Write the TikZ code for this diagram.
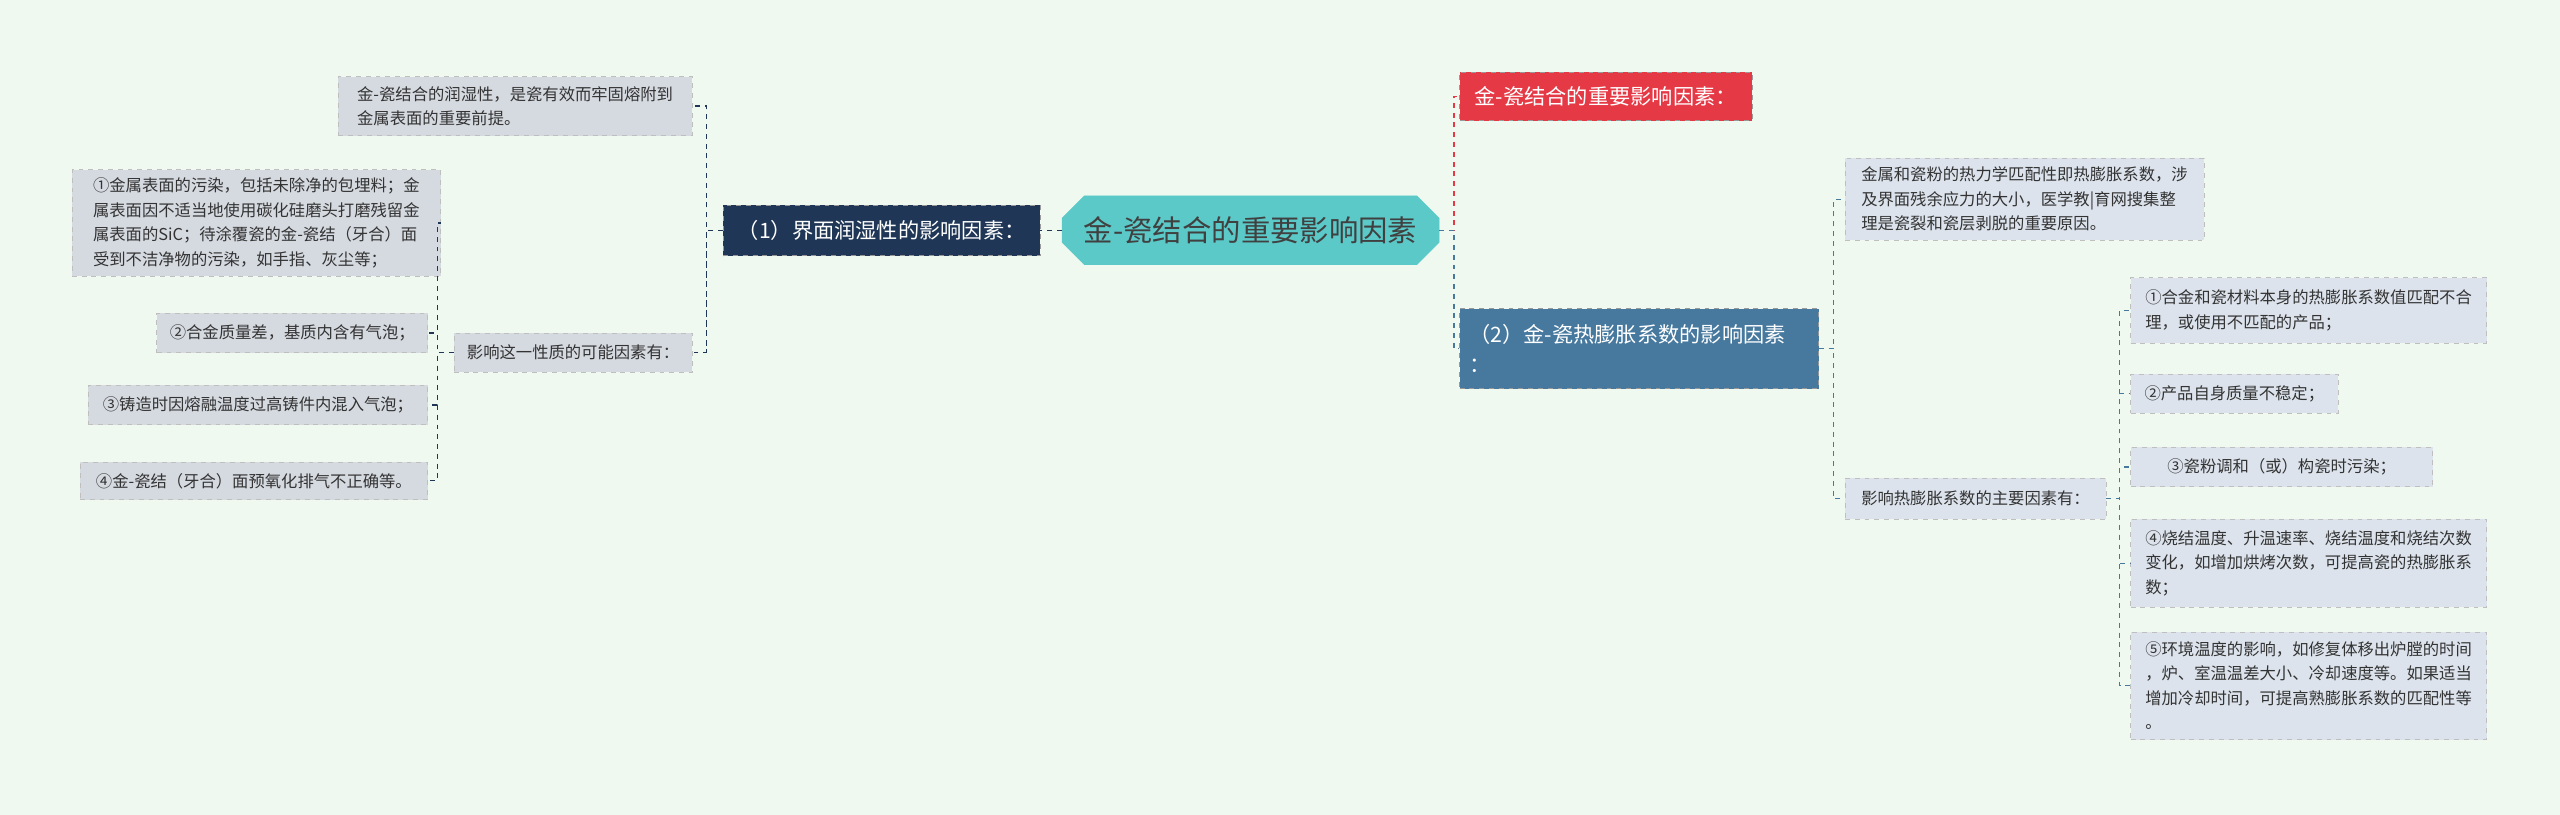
\documentclass[tikz,border=0pt]{standalone}
\usepackage{fontspec}
\setmainfont{Noto Sans CJK SC}
\usetikzlibrary{shapes.misc}
\definecolor{bgc}{HTML}{F0F9EF}
\definecolor{navy}{HTML}{1F3656}
\definecolor{teal}{HTML}{5CC9C9}
\definecolor{redc}{HTML}{E63946}
\definecolor{steel}{HTML}{47799E}
\definecolor{greyL}{HTML}{D5D9E0}
\definecolor{greyR}{HTML}{DCE3EC}
\tikzset{
  leaf/.style={rectangle,draw=gray!50,dashed,fill=greyL,inner sep=5pt,align=left,
    font=\fontsize{10}{15}\selectfont,text=black!80},
  leafR/.style={leaf,fill=greyR},
  mainbox/.style={rectangle,draw=white!60!black,dashed,inner sep=5pt,align=left,
    text=white,font=\fontsize{13}{18}\selectfont},
  link/.style={dashed,line width=0.8pt}
}
\begin{document}
\begin{tikzpicture}[x=1pt,y=-1pt]
\fill[bgc] (0,0) rectangle (1568,499);
\useasboundingbox (0,0) rectangle (1568,499);
% Root and main branches
\node[chamfered rectangle,chamfered rectangle xsep=10pt,fill=teal,draw=teal,
  minimum width=219,minimum height=42,font=\fontsize{18}{22}\selectfont,text=black!75]
  (root) at (766,141) {金-瓷结合的重要影响因素};
\node[mainbox,fill=navy,minimum width=194,minimum height=31,align=center] (wet) at (540,141)
  {（1）界面润湿性的影响因素：};
\node[mainbox,fill=redc,minimum width=179,minimum height=30] (key) at (983.5,59)
  {金-瓷结合的重要影响因素：};
\node[mainbox,fill=steel,minimum width=220,minimum height=49,text width=208] (exp) at (1004,213.5)
  {（2）金-瓷热膨胀系数的影响因素\\：};
% Left side
\node[leaf,minimum width=217,minimum height=36] (wnote) at (315.5,65)
  {金-瓷结合的润湿性，是瓷有效而牢固熔附到\\金属表面的重要前提。};
\node[leaf,minimum width=146,minimum height=24] (wcause) at (351,216)
  {影响这一性质的可能因素有：};
\node[leaf,minimum width=226,minimum height=65] (w1) at (157,136.5)
  {①金属表面的污染，包括未除净的包埋料；金\\属表面因不适当地使用碳化硅磨头打磨残留金\\属表面的SiC；待涂覆瓷的金-瓷结（牙合）面\\受到不洁净物的污染，如手指、灰尘等；};
\node[leaf,minimum width=166,minimum height=24] (w2) at (179,204)
  {②合金质量差，基质内含有气泡；};
\node[leaf,minimum width=208,minimum height=24] (w3) at (158,248)
  {③铸造时因熔融温度过高铸件内混入气泡；};
\node[leaf,minimum width=213,minimum height=23] (w4) at (155.5,294.5)
  {④金-瓷结（牙合）面预氧化排气不正确等。};
% Right side
\node[leafR,minimum width=220,minimum height=50] (enote) at (1240,122)
  {金属和瓷粉的热力学匹配性即热膨胀系数，涉\\及界面残余应力的大小，医学教|育网搜集整\\理是瓷裂和瓷层剥脱的重要原因。};
\node[leafR,minimum width=160,minimum height=25] (ecause) at (1210,305.5)
  {影响热膨胀系数的主要因素有：};
\node[leafR,minimum width=218,minimum height=40] (e1) at (1414,190)
  {①合金和瓷材料本身的热膨胀系数值匹配不合\\理，或使用不匹配的产品；};
\node[leafR,minimum width=127,minimum height=24] (e2) at (1368.5,241)
  {②产品自身质量不稳定；};
\node[leafR,minimum width=185,minimum height=24] (e3) at (1397.5,286)
  {③瓷粉调和（或）构瓷时污染；};
\node[leafR,minimum width=218,minimum height=54] (e4) at (1414,345)
  {④烧结温度、升温速率、烧结温度和烧结次数\\变化，如增加烘烤次数，可提高瓷的热膨胀系\\数；};
\node[leafR,minimum width=218,minimum height=66] (e5) at (1414,420)
  {⑤环境温度的影响，如修复体移出炉膛的时间\\，炉、室温温差大小、冷却速度等。如果适当\\增加冷却时间，可提高熟膨胀系数的匹配性等\\。};
% Connectors
\draw[link,navy] (root.west) -- (wet.east);
\foreach \n in {wnote,wcause}
  \draw[link,navy] (wet.west) -| ([xshift=-10]wet.west |- wcause.east) |- (\n.east);
\foreach \n in {w1,w2,w3,w4}
  \draw[link,navy] (wcause.west) -- ++(-10,0) |- (\n.east);
\draw[link,redc] (root.east) -- ++(9,0) |- (key.west);
\draw[link,steel] (root.east) -- ++(9,0) |- (exp.west);
\foreach \n in {enote,ecause}
  \draw[link,steel] (exp.east) -- ++(9,0) |- (\n.west);
\foreach \n in {e1,e2,e3,e4,e5}
  \draw[link,steel] (ecause.east) -- ++(8,0) |- (\n.west);
\end{tikzpicture}
\end{document}
